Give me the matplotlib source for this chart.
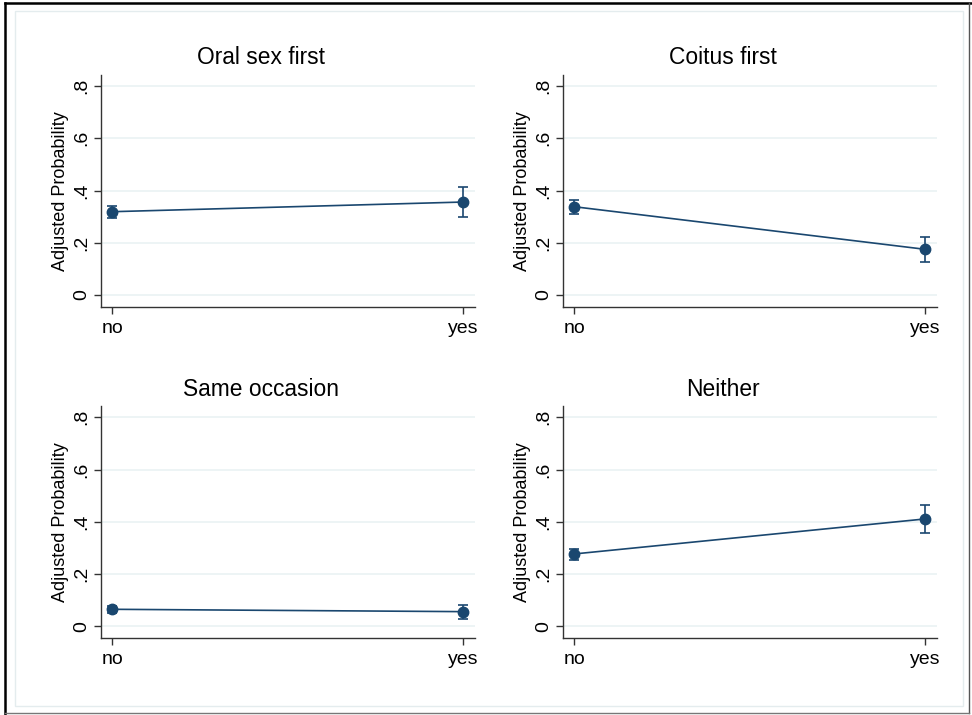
import matplotlib
matplotlib.use("Agg")
import matplotlib.pyplot as plt
from matplotlib.patches import Rectangle

plt.rcParams["font.family"] = ["Liberation Sans", "DejaVu Sans"]

# values (margins plot, 4 outcomes)
GROUPS = ["no", "yes"]
TITLES = ["Oral sex first", "Coitus first", "Same occasion", "Neither"]
PROB = [
    [0.319, 0.356],
    [0.338, 0.175],
    [0.065, 0.056],
    [0.277, 0.411],
]
CI_LO = [
    [0.294, 0.297],
    [0.310, 0.126],
    [0.052, 0.027],
    [0.254, 0.359],
]
CI_HI = [
    [0.342, 0.415],
    [0.364, 0.221],
    [0.078, 0.082],
    [0.296, 0.465],
]
YTICKS = [0, 0.2, 0.4, 0.6, 0.8]
YTICKLABELS = ["0", ".2", ".4", ".6", ".8"]

NAVY = "#1a476f"
GRID = "#eaf2f3"

fig = plt.figure(figsize=(9.72, 7.15), dpi=100)
fig.patch.set_facecolor("white")

# outer frame + faint inner region border
fig.patches.append(Rectangle((15 / 972, 1 - 706 / 715), 948 / 972, 695 / 715,
                             transform=fig.transFigure, fill=False,
                             edgecolor="#e4ecee", lw=1.0))
fig.add_artist(plt.Line2D([5 / 972, 5 / 972], [0, 1 - 3 / 715], color="black", lw=1.8,
                          transform=fig.transFigure))
fig.add_artist(plt.Line2D([5 / 972, 1], [1 - 3 / 715, 1 - 3 / 715], color="black", lw=1.8,
                          transform=fig.transFigure))
fig.add_artist(plt.Line2D([969 / 972, 969 / 972], [1 - 713 / 715, 1 - 3 / 715], color="#555555",
                          lw=1.0, transform=fig.transFigure))
fig.add_artist(plt.Line2D([5 / 972, 969 / 972], [1 - 713 / 715, 1 - 713 / 715], color="#777777",
                          lw=1.0, transform=fig.transFigure))

lefts = [0.1039, 0.5795]
bottoms = [0.5706, 0.1073]
w, h = 0.3845, 0.3247

x = list(range(len(GROUPS)))
for i, title in enumerate(TITLES):
    r, c = divmod(i, 2)
    ax = fig.add_axes([lefts[c], bottoms[r], w, h])
    y = PROB[i]
    yerr = [[p - lo for p, lo in zip(y, CI_LO[i])],
            [hi - p for p, hi in zip(y, CI_HI[i])]]
    ax.errorbar(x, y, yerr=yerr, color=NAVY, lw=1.2, marker="o", ms=7.5,
                capsize=3.5, capthick=1.2, elinewidth=1.2, zorder=3)
    ax.set_xlim(-0.032, 1.034)
    ax.set_ylim(-0.046, 0.843)
    ax.set_xticks(x)
    ax.set_xticklabels(GROUPS, fontsize=14)
    ax.set_yticks(YTICKS)
    ax.set_yticklabels(YTICKLABELS, fontsize=14, rotation=90, va="center")
    ax.yaxis.grid(True, color=GRID, lw=1.2)
    ax.set_axisbelow(True)
    ax.set_ylabel("Adjusted Probability", fontsize=13, labelpad=3)
    # title centred over the whole subgraph (axes + y label area)
    fig.text(lefts[c] + w / 2 - 27 / 972, bottoms[r] + h + 17 / 715, title,
             fontsize=16.4, ha="center", va="center")
    for s in ["top", "right"]:
        ax.spines[s].set_visible(False)
    for s in ["left", "bottom"]:
        ax.spines[s].set_color("#333333")
        ax.spines[s].set_linewidth(1.0)
    ax.tick_params(direction="out", length=5, width=1.0, color="#333333", pad=3)
    ax.tick_params(axis="x", pad=4)

fig.savefig("out.png", dpi=100, facecolor="white")
